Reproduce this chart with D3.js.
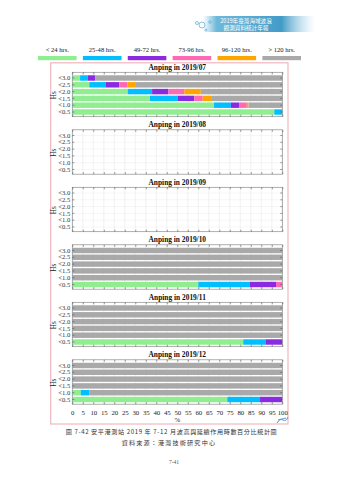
<!DOCTYPE html>
<html>
<head>
<meta charset="utf-8">
<script src="https://cdn.jsdelivr.net/npm/d3@7"></script>
<style>
  html, body { margin: 0; padding: 0; background: #fff; }
  svg { display: block; }
</style>
</head>
<body>
<svg id="page" width="339" height="480"></svg>
<script>
// Duration classes (legend) and their colours
const categories = ["< 24 hrs.", "25-48 hrs.", "49-72 hrs.", "73-96 hrs.", "96-120 hrs.", "> 120 hrs."];
const colors = ["#90ee90", "#00bfff", "#8a2be2", "#ff69b4", "#ffa500", "#a9a9a9"];

// Wave height classes, top to bottom
const hsLabels = ["<3.0", "<2.5", "<2.0", "<1.5", "<1.0", "<0.5"];

// Percentage axis ticks
const xTicks = [0, 5, 10, 15, 20, 25, 30, 35, 40, 45, 50, 55, 60, 65, 70, 75, 80, 85, 90, 95, 100];

const months = ["2019/07", "2019/08", "2019/09", "2019/10", "2019/11", "2019/12"];

// Percent of time per duration class, one row per wave height class
const jul = [
  [3.7, 3.7, 3.5, 0, 0, 89.1],
  [8.1, 7.7, 6.5, 4.0, 4.0, 69.7],
  [26.4, 11.6, 7.8, 7.6, 7.8, 38.8],
  [37.0, 13.3, 7.8, 4.0, 4.0, 33.9],
  [67.5, 8.0, 3.9, 3.7, 0.8, 16.1],
  [96.2, 3.8, 0, 0, 0, 0]
];
const aug = [];
const sep = [];
const oct = [
  [0, 0, 0, 0, 0, 100],
  [0, 0, 0, 0, 0, 100],
  [0, 0, 0, 0, 0, 100],
  [0, 0, 0, 0, 0, 100],
  [0, 0, 0, 0, 0, 100],
  [60.0, 24.6, 12.4, 3.0, 0, 0]
];
const nov = [
  [0, 0, 0, 0, 0, 100],
  [0, 0, 0, 0, 0, 100],
  [0, 0, 0, 0, 0, 100],
  [0, 0, 0, 0, 0, 100],
  [0, 0, 0, 0, 0, 100],
  [81.4, 10.6, 8.0, 0, 0, 0]
];
const dec = [
  [0, 0, 0, 0, 0, 100],
  [0, 0, 0, 0, 0, 100],
  [0, 0, 0, 0, 0, 100],
  [0, 0, 0, 0, 0, 100],
  [4.0, 4.0, 0, 0, 0, 92.0],
  [73.8, 15.6, 10.6, 0, 0, 0]
];
const monthData = [jul, aug, sep, oct, nov, dec];

const serif = "'Liberation Serif', 'DejaVu Serif', serif";
const cjk = "'Noto Sans CJK TC', 'Noto Sans CJK SC', sans-serif";

const svg = d3.select("#page");
const defs = svg.append("defs");

// ---- header banner ----
const grad = defs.append("linearGradient").attr("id", "banner").attr("x1", 0).attr("x2", 1);
grad.append("stop").attr("offset", "0%").attr("stop-color", "#5fb3d6").attr("stop-opacity", 0);
grad.append("stop").attr("offset", "12%").attr("stop-color", "#55acd3").attr("stop-opacity", 0.85);
grad.append("stop").attr("offset", "70%").attr("stop-color", "#3896c4").attr("stop-opacity", 0.95);
grad.append("stop").attr("offset", "100%").attr("stop-color", "#9ccde4").attr("stop-opacity", 0);
svg.append("rect").attr("x", 203).attr("y", 16).attr("width", 112).attr("height", 16)
  .attr("fill", "url(#banner)");
[[197, 23, 1.5], [202, 25, 3], [210, 22, 1.3], [206, 30, 1]].forEach(([cx, cy, r]) => {
  svg.append("circle").attr("cx", cx).attr("cy", cy).attr("r", r)
    .attr("fill", "none").attr("stroke", "#6ab3d8").attr("stroke-width", 0.8);
});
svg.append("text").attr("x", 246).attr("y", 23).attr("text-anchor", "middle")
  .attr("font-family", cjk).attr("font-size", 5.6).attr("fill", "#fff")
  .text("2019年臺灣海域波浪");
svg.append("text").attr("x", 246).attr("y", 30).attr("text-anchor", "middle")
  .attr("font-family", cjk).attr("font-size", 5.6).attr("fill", "#fff")
  .text("觀測資料統計年報");

// ---- legend ----
const legendX = d3.scaleBand().domain(categories).range([38, 301]).paddingInner(0.14);
const legend = svg.append("g");
categories.forEach((c, i) => {
  const x0 = legendX(c);
  legend.append("rect").attr("x", x0).attr("y", 56).attr("width", legendX.bandwidth())
    .attr("height", 4.2).attr("fill", colors[i]);
  legend.append("text").attr("x", x0 + legendX.bandwidth() / 2).attr("y", 51.5)
    .attr("text-anchor", "middle").attr("font-family", serif).attr("font-size", 6.6)
    .attr("fill", "#222").text(c);
});

// ---- outer frame ----
svg.append("rect").attr("x", 50.7).attr("y", 62.8).attr("width", 237.3).attr("height", 361.2)
  .attr("fill", "none").attr("stroke", "#f0b7bf").attr("stroke-width", 1.2);

// ---- panels ----
const plotLeft = 72.3, plotRight = 282.3, plotH = 44.4, firstTop = 72.3, panelStep = 57.5;
const x = d3.scaleLinear().domain([0, 100]).range([plotLeft, plotRight]);

months.forEach((m, pi) => {
  const top = firstTop + pi * panelStep;
  const g = svg.append("g");
  const y = d3.scaleBand().domain(hsLabels).range([top + 2.3, top + 43.1])
    .paddingInner(0.2).paddingOuter(0.1);

  // grid
  g.append("g").selectAll("line").data(xTicks).join("line")
    .attr("x1", d => x(d)).attr("x2", d => x(d)).attr("y1", top).attr("y2", top + plotH)
    .attr("stroke", "#e3e3e3").attr("stroke-width", 0.5);
  g.append("g").selectAll("line").data(hsLabels).join("line")
    .attr("x1", plotLeft).attr("x2", plotRight)
    .attr("y1", d => y(d) + y.bandwidth() / 2).attr("y2", d => y(d) + y.bandwidth() / 2)
    .attr("stroke", "#ececec").attr("stroke-width", 0.5);

  // stacked bars
  const rows = monthData[pi];
  rows.forEach((vals, ri) => {
    let acc = 0;
    vals.forEach((v, ci) => {
      if (v > 0) {
        g.append("rect").attr("x", x(acc)).attr("width", x(acc + v) - x(acc))
          .attr("y", y(hsLabels[ri])).attr("height", y.bandwidth())
          .attr("fill", colors[ci]);
      }
      acc += v;
    });
  });

  // frame
  g.append("rect").attr("x", plotLeft).attr("y", top).attr("width", plotRight - plotLeft)
    .attr("height", plotH).attr("fill", "none").attr("stroke", "#8c8c8c").attr("stroke-width", 0.7);

  // inward ticks: top, bottom, left, right
  const tl = 2;
  g.append("g").call(d3.axisTop(x).tickValues(xTicks).tickSize(-tl).tickFormat(""))
    .attr("transform", `translate(0,${top})`)
    .call(a => { a.select(".domain").remove(); a.selectAll("line").attr("stroke", "#555").attr("stroke-width", 0.6); });
  const bottomAxis = g.append("g").attr("transform", `translate(0,${top + plotH})`)
    .call(d3.axisBottom(x).tickValues(xTicks).tickSize(-tl).tickFormat(pi === months.length - 1 ? d3.format("d") : ""))
    .call(a => { a.select(".domain").remove(); a.selectAll("line").attr("stroke", "#555").attr("stroke-width", 0.6); });
  bottomAxis.selectAll("text").attr("font-family", serif).attr("font-size", 6.8)
    .attr("fill", "#222").attr("dy", "0.71em").attr("y", 5.5);

  g.append("g").attr("transform", `translate(${plotLeft},0)`)
    .call(d3.axisLeft(y).tickSize(-tl).tickPadding(2))
    .call(a => {
      a.select(".domain").remove();
      a.selectAll("line").attr("stroke", "#555").attr("stroke-width", 0.6);
      a.selectAll("text").attr("font-family", serif).attr("font-size", 6.6).attr("fill", "#333");
    });
  g.append("g").attr("transform", `translate(${plotRight},0)`)
    .call(d3.axisRight(y).tickSize(-tl).tickFormat(""))
    .call(a => { a.select(".domain").remove(); a.selectAll("line").attr("stroke", "#555").attr("stroke-width", 0.6); });

  // y title
  g.append("text").attr("transform", `translate(55.5,${top + 23}) rotate(-90)`)
    .attr("text-anchor", "middle").attr("font-family", serif).attr("font-size", 7.2)
    .attr("fill", "#222").text("Hs");

  // panel title
  g.append("text").attr("x", (plotLeft + plotRight) / 2).attr("y", top - 2.6)
    .attr("text-anchor", "middle").attr("font-family", serif).attr("font-size", 7.4)
    .attr("font-weight", "bold").attr("fill", "#111").text("Anping in " + m);
});

// x title
svg.append("text").attr("x", (plotLeft + plotRight) / 2).attr("y", 421.5)
  .attr("text-anchor", "middle").attr("font-family", serif).attr("font-size", 6.8)
  .attr("fill", "#222").text("%");

// small mark in the frame corner
svg.append("path").attr("d", "M277,423 q3,-5 6,-3 q3,2 5,-3 M278,420 l8,-2")
  .attr("fill", "none").attr("stroke", "#4a8fc8").attr("stroke-width", 0.9);

// ---- caption ----
svg.append("text").attr("x", 65.7).attr("y", 434)
  .attr("font-family", cjk).attr("font-size", 6.1).attr("fill", "#333")
  .attr("textLength", 211).attr("lengthAdjust", "spacing")
  .text("圖 7-42 安平港測站 2019 年 7-12 月波高與延續作用時數百分比統計圖");
svg.append("text").attr("x", 121.7).attr("y", 444.5)
  .attr("font-family", cjk).attr("font-size", 6.1).attr("fill", "#333")
  .attr("textLength", 93.3).attr("lengthAdjust", "spacing")
  .text("資料來源：港灣技術研究中心");
svg.append("text").attr("x", 174).attr("y", 464).attr("text-anchor", "middle")
  .attr("font-family", serif).attr("font-size", 5.5).attr("fill", "#555")
  .text("7-41");
</script>
</body>
</html>
